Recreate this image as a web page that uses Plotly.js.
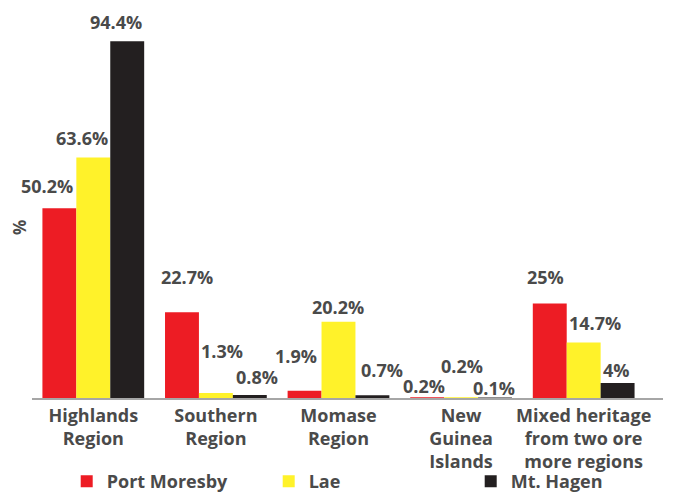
<!DOCTYPE html>
<html><head><meta charset="utf-8">
<script src="https://cdn.plot.ly/plotly-3.0.1.min.js"></script>
<style>body{margin:0;padding:0;background:#fff}#chart{width:678px;height:495px}</style>
</head><body><div id="chart"></div>
<script>
const categories = ["Highlands<br>Region","Southern<br>Region","Momase<br>Region","New<br>Guinea<br>Islands","Mixed heritage<br>from two ore<br>more regions"];
const portMoresby = [50.2, 22.7, 1.9, 0.2, 25];
const lae = [63.6, 1.3, 20.2, 0.2, 14.7];
const mtHagen = [94.4, 0.8, 0.7, 0.1, 4];
const seriesNames = ["Port Moresby","Lae","Mt. Hagen"];
const yTitle = "%";
const colors = ["#ED1C24","#FFF22A","#231F20"];
const allVals = [portMoresby, lae, mtHagen];

// label placement tweaks (pixels): [dx, dy] per series per category
const labelTweaks = [
  [[-12,22],[5,35],[-8,35],[-3,11],[-4,27]],
  [[-11,20],[6,42],[0,15],[1,31],[11,19]],
  [[-11,19],[7,18],[10,25],[-1,10],[-1,13]]
];
const barPx = 34;
const txtColor = "#4A4A4A";
const fam = "Open Sans";

const traces = allVals.map((v,i)=>({
  type:"bar", x:categories, y:v, name:seriesNames[i],
  marker:{color:colors[i]}, hoverinfo:"none"
}));

const annotations = [];
allVals.forEach((v,i)=>{
  v.forEach((d,j)=>{
    annotations.push({
      x:categories[j], y:d, xref:"x", yref:"y", text:d+"%", showarrow:false,
      xanchor:"center", yanchor:"middle",
      xshift:(i-1)*barPx + labelTweaks[i][j][0], yshift:labelTweaks[i][j][1],
      font:{family:fam, size:18, color:txtColor, weight:"bold"}
    });
  });
});
annotations.push({
  text:yTitle, xref:"paper", yref:"paper", x:0, y:0.45, xshift:-12, showarrow:false,
  textangle:-90, xanchor:"center", yanchor:"middle",
  font:{family:fam, size:17, color:txtColor, weight:"bold"}
});

const layout = {
  width:678, height:495,
  margin:{l:32, r:15, t:20, b:97, autoexpand:false},
  barmode:"group", bargap:0.17, bargroupgap:0,
  font:{family:fam, color:txtColor},
  paper_bgcolor:"#fff", plot_bgcolor:"#fff",
  xaxis:{type:"category", range:[-0.5,4.647], showline:true, linecolor:"#A6A6A6", linewidth:2,
    ticks:"", automargin:false, tickfont:{family:fam, size:18, color:txtColor, weight:"bold"}},
  yaxis:{range:[0,100], showgrid:false, showticklabels:false, zeroline:false, automargin:false},
  legend:{orientation:"h", x:0.055, xanchor:"left", y:-0.221, yanchor:"middle", bgcolor:"rgba(0,0,0,0)",
    font:{family:fam, size:18, color:txtColor, weight:"bold"}, entrywidth:157, itemwidth:30},
  showlegend:true,
  annotations:annotations
};
Plotly.newPlot("chart", traces, layout, {displayModeBar:false, staticPlot:true});
</script></body></html>
